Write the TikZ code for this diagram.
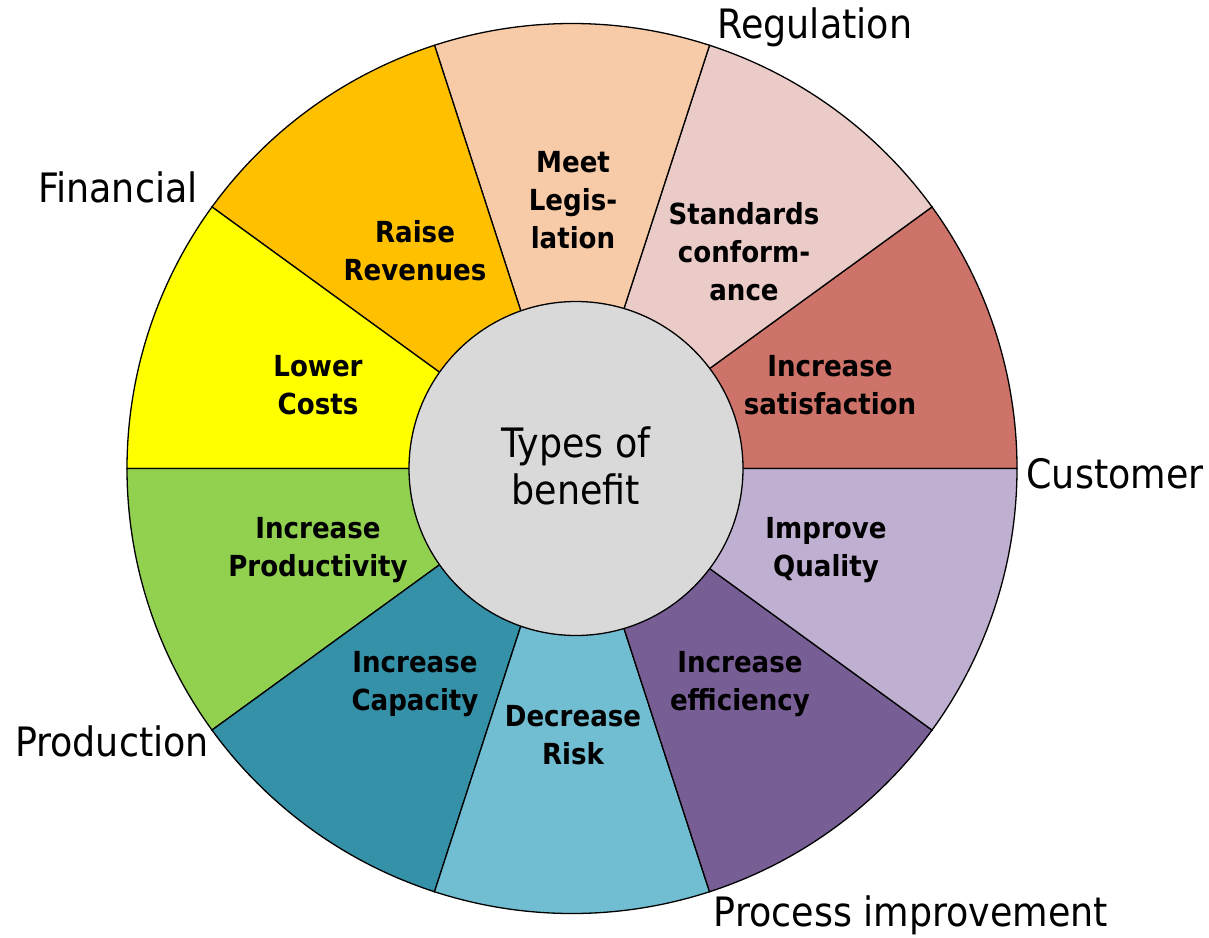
\documentclass[tikz,border=0pt]{standalone}
\usepackage{fontspec}
\setmainfont{DejaVu Sans Condensed}
\begin{document}
\begin{tikzpicture}[x=1pt,y=1pt,
  wedge/.style={draw=black,line width=1.3pt},
  seglabel/.style={font=\fontsize{29}{38}\selectfont\bfseries,align=center,text=black,inner sep=0pt},
  grouplabel/.style={font=\fontsize{40.5}{48}\selectfont,text=black,inner sep=0pt},
]
% canvas: 1209 x 937, origin top-left, y measured downwards as negative
\useasboundingbox (0,0) rectangle (1209,-937);
\fill[white] (0,0) rectangle (1209,-937);

\definecolor{cSat}{HTML}{CD7369}
\definecolor{cStd}{HTML}{EACBC8}
\definecolor{cLeg}{HTML}{F8CBA8}
\definecolor{cRev}{HTML}{FFC000}
\definecolor{cCost}{HTML}{FFFF00}
\definecolor{cProd}{HTML}{92D050}
\definecolor{cCap}{HTML}{3591A8}
\definecolor{cRisk}{HTML}{71BDD2}
\definecolor{cEff}{HTML}{775E95}
\definecolor{cQual}{HTML}{BFB0D1}
\definecolor{cHub}{HTML}{D9D9D9}

\coordinate (c) at (572,-468.5);
\def\R{445}

% ten wedges of 36 degrees each, counter-clockwise from the right
\foreach \a/\col in {0/cSat,36/cStd,72/cLeg,108/cRev,144/cCost,180/cProd,216/cCap,252/cRisk,288/cEff,324/cQual}{
  \filldraw[wedge,fill=\col] (c) -- ++(\a:\R) arc[start angle=\a, end angle=\a+36, radius=\R] -- cycle;
}

% central hub
\node[circle,draw=black,line width=1.3pt,fill=cHub,minimum size=334pt,inner sep=0pt] (hub) at (576,-468.5) {};
\node[align=center,font=\fontsize{40.5}{47}\selectfont,inner sep=0pt] (hubtext) at (576,-466) {Types of\\benefit};

% wedge labels
\node[seglabel] (sat)  at (830,-385) {Increase\\satisfaction};
\node[seglabel] (std)  at (744,-252) {Standards\\conform-\\ance};
\node[seglabel] (leg)  at (573,-200) {Meet\\Legis-\\lation};
\node[seglabel] (rev)  at (415,-251) {Raise\\Revenues};
\node[seglabel] (cost) at (318,-385) {Lower\\Costs};
\node[seglabel] (prod) at (318,-550) {Increase\\Productivity};
\node[seglabel] (cap)  at (415,-684) {Increase\\Capacity};
\node[seglabel] (risk) at (573,-735) {Decrease\\Risk};
\node[seglabel] (eff)  at (740,-684) {Increase\\efficiency};
\node[seglabel] (qual) at (826,-550) {Improve\\Quality};

% group labels around the wheel
\node[grouplabel] (greg)  at (815,-27)  {Regulation};
\node[grouplabel] (gfin)  at (118,-187) {Financial};
\node[grouplabel] (gcus)  at (1115,-474) {Customer};
\node[grouplabel] (gprod) at (112,-741) {Production};
\node[grouplabel] (gproc) at (911,-915) {Process improvement};
\end{tikzpicture}
\end{document}
